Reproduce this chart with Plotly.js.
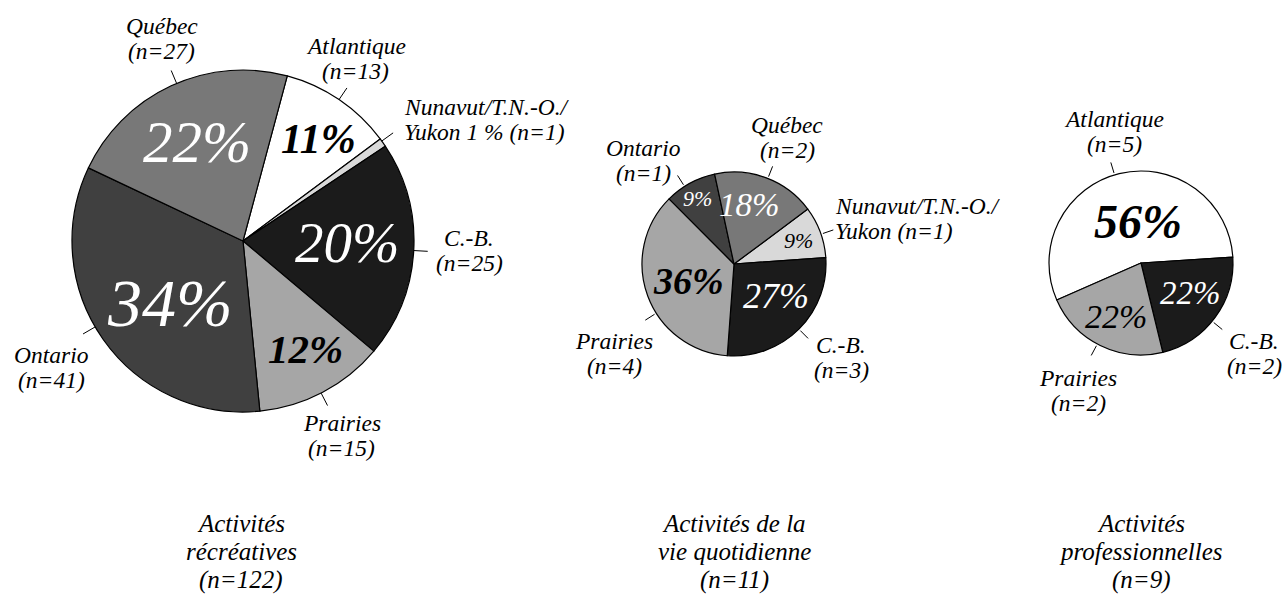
<!DOCTYPE html>
<html>
<head>
<meta charset="utf-8">
<script src="https://cdn.plot.ly/plotly-3.0.1.min.js"></script>
<style>
  html, body { margin: 0; padding: 0; background: #ffffff; }
  #chart { width: 1284px; height: 595px; }
  svg text, svg tspan { font-family: 'Liberation Serif' !important; font-style: italic !important; }
</style>
</head>
<body>
<div id="chart"></div>
<script>
// ---------------- DATA ----------------
const regions = ['Atlantique', 'Nunavut/T.N.-O./Yukon', 'C.-B.', 'Prairies', 'Ontario', 'Québec'];
const regionNameLines = [['Atlantique'], ['Nunavut/T.N.-O./', 'Yukon'], ['C.-B.'], ['Prairies'], ['Ontario'], ['Québec']];
const recreationalCounts = [13, 1, 25, 15, 41, 27];   // n=122
const dailyLivingCounts  = [0, 1, 3, 4, 1, 2];        // n=11
const professionalCounts = [5, 0, 2, 2, 0, 0];        // n=9
const chartTitles = [
  ['Activités', 'récréatives', '(n=122)'],
  ['Activités de la', 'vie quotidienne', '(n=11)'],
  ['Activités', 'professionnelles', '(n=9)']
];

// ---------------- STYLE ----------------
const W = 1284, H = 595;
const FONT = 'Liberation Serif';
const sliceColors = ['#ffffff', '#d9d9d9', '#1b1b1b', '#a6a6a6', '#404040', '#787878'];
const pctColors   = ['#000000', '#000000', '#ffffff', '#000000', '#ffffff', '#ffffff'];
const LABEL_SIZE = 23.5, LABEL_SPACING = 25;
const TITLE_SIZE = 25, TITLE_SPACING = 28.5;

const pieStyles = [
  { counts: recreationalCounts, cx: 243, cy: 241, r: 171, rotation: 15,
    pctSize:  [42, 0, 57, 41, 68, 59],
    pctBold:  [1, 0, 0, 1, 0, 0],
    pctR:     [0.74, 0, 0.61, 0.73, 0.56, 0.64],
    pctNudge: [2.4, 0, -2.3, -2, -5.2, -0.2],
    leadNudge:[0, -0.6, 0, 0.6, 5, 2],
    leadIn: 0, leadOut: 14,
    labelPos: [[356, 46, 'center'], [402, 107, 'left'], [469, 238, 'center'],
               [342, 423, 'center'], [51, 355, 'center'], [162, 26, 'center']],
    titleX: 241 },
  { counts: dailyLivingCounts, cx: 734, cy: 264, r: 92, rotation: 53.3,
    pctSize:  [0, 22, 36, 38, 22, 33],
    pctBold:  [0, 0, 0, 1, 0, 0],
    pctR:     [0, 0.75, 0.57, 0.53, 0.81, 0.66],
    pctNudge: [0, 0.1, -8, 0.2, -0.6, -5.4],
    leadNudge:[0, 1.4, 0, -12, -4, 1],
    leadIn: 2, leadOut: 13,
    labelPos: [null, [833, 206, 'left'], [841, 345, 'center'],
               [614, 341, 'center'], [643, 148, 'center'], [787, 125, 'center']],
    titleX: 734 },
  { counts: professionalCounts, cx: 1141, cy: 263, r: 92, rotation: 246.3,
    pctSize:  [48, 0, 33, 34, 0, 0],
    pctBold:  [1, 0, 0, 0, 0, 0],
    pctR:     [0.45, 0, 0.63, 0.64, 0, 0],
    pctNudge: [9, 0, -5, -1, 0, 0],
    leadNudge:[-3, 0, 3, 2, 0, 0],
    leadIn: 2, leadOut: 13,
    labelPos: [[1114, 119, 'center'], null, [1254, 341, 'center'],
               [1078, 378, 'center'], null, null],
    titleX: 1141 }
];

// ---------------- BUILD ----------------
const px = x => x / W;
const py = y => 1 - y / H;
const rad = d => d * Math.PI / 180;

const traces = [];
const annotations = [];
const shapes = [];

function addText(x, y, text, size, color, anchor, bold) {
  annotations.push({
    x: px(x), y: py(y), xref: 'paper', yref: 'paper',
    text: bold ? '<b>' + text + '</b>' : text,
    showarrow: false, xanchor: anchor || 'center', yanchor: 'middle',
    font: { family: FONT, size: size, color: color, style: 'italic' }
  });
}

pieStyles.forEach((p, pi) => {
  const idx = p.counts.map((v, i) => i).filter(i => p.counts[i] > 0);
  const total = idx.reduce((s, i) => s + p.counts[i], 0);

  traces.push({
    type: 'pie',
    labels: idx.map(i => regions[i]),
    values: idx.map(i => p.counts[i]),
    marker: { colors: idx.map(i => sliceColors[i]), line: { color: '#000000', width: 1.2 } },
    sort: false,
    direction: 'clockwise',
    rotation: p.rotation,
    textinfo: 'none',
    hoverinfo: 'skip',
    showlegend: false,
    domain: { x: [px(p.cx - p.r), px(p.cx + p.r)], y: [py(p.cy + p.r), py(p.cy - p.r)] }
  });

  let angle = p.rotation;
  idx.forEach(i => {
    const v = p.counts[i];
    const span = v / total * 360;
    const mid = angle + span / 2;
    angle += span;
    const pct = Math.round(v / total * 100);
    const small = pct < 3;

    // percentage inside slice
    if (!small) {
      const a = rad(mid + p.pctNudge[i]);
      const rr = p.r * p.pctR[i];
      addText(p.cx + rr * Math.sin(a), p.cy - rr * Math.cos(a), pct + '%', p.pctSize[i], pctColors[i], 'center', p.pctBold[i]);
    }

    // leader line
    const la = rad(mid + p.leadNudge[i]);
    const r0 = p.r + p.leadIn, r1 = p.r + p.leadOut;
    shapes.push({
      type: 'line', xref: 'paper', yref: 'paper',
      x0: px(p.cx + r0 * Math.sin(la)), y0: py(p.cy - r0 * Math.cos(la)),
      x1: px(p.cx + r1 * Math.sin(la)), y1: py(p.cy - r1 * Math.cos(la)),
      line: { color: '#000000', width: 1 }
    });

    // outside label
    const nLabel = (small ? pct + ' % ' : '') + '(n=' + v + ')';
    const names = regionNameLines[i];
    let lines;
    if (names.length > 1) {
      lines = names.slice(0, -1).concat([names[names.length - 1] + ' ' + nLabel]);
    } else {
      lines = [names[0], nLabel];
    }
    const pos = p.labelPos[i];
    lines.forEach((ln, k) => {
      addText(pos[0], pos[1] + k * LABEL_SPACING, ln, LABEL_SIZE, '#000000', pos[2], false);
    });
  });

  // chart title below pie
  chartTitles[pi].forEach((ln, k) => {
    addText(p.titleX, 523 + k * TITLE_SPACING, ln, TITLE_SIZE, '#000000', 'center', false);
  });
});

const layout = {
  width: W, height: H,
  margin: { l: 0, r: 0, t: 0, b: 0, pad: 0 },
  paper_bgcolor: '#ffffff',
  plot_bgcolor: '#ffffff',
  showlegend: false,
  font: { family: FONT, color: '#000000' },
  annotations: annotations,
  shapes: shapes
};

Plotly.newPlot('chart', traces, layout, { staticPlot: true, displayModeBar: false });
</script>
</body>
</html>
